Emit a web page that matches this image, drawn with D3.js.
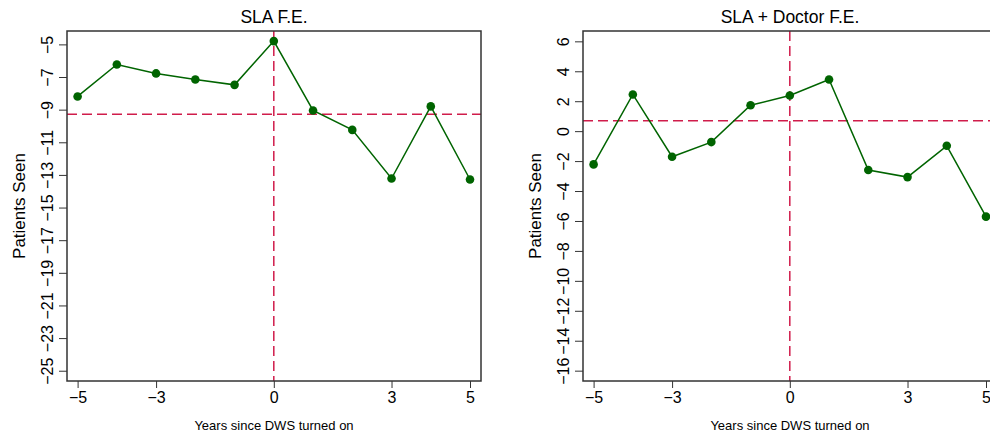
<!DOCTYPE html>
<html>
<head>
<meta charset="utf-8">
<script src="https://cdn.jsdelivr.net/npm/d3@7"></script>
<style>
  body { margin: 0; background: #fff; }
  svg { display: block; font-family: "Liberation Sans", Arial, Helvetica, sans-serif; }
</style>
</head>
<body>
<script>
// years relative to DWS switch
let years = [-5, -4, -3, -2, -1, 0, 1, 2, 3, 4, 5];
let xTicks = [-5, -3, 0, 3, 5];

// panel 1: SLA F.E.
let slaValues = [-8.19, -6.23, -6.78, -7.15, -7.48, -4.80, -9.05, -10.24, -13.22, -8.80, -13.28];
let slaTicks = [-5, -7, -9, -11, -13, -15, -17, -19, -21, -23, -25];
let slaMean = -9.28;

// panel 2: SLA + Doctor F.E.
let docValues = [-2.22, 2.45, -1.71, -0.73, 1.73, 2.38, 3.45, -2.60, -3.07, -0.98, -5.71];
let docTicks = [6, 4, 2, 0, -2, -4, -6, -8, -10, -12, -14, -16];
let docMean = 0.69;

let width = 990, height = 435;
let green = "#006400", red = "#d01c4b", frame = "#333";

let svg = d3.select("body").append("svg")
  .attr("width", width).attr("height", height);

let panels = [
  { title: "SLA F.E.", values: slaValues, ticks: slaTicks, mean: slaMean,
    left: 67, right: 481, ydom: [-25.63, -4.18], titleX: 18 },
  { title: "SLA + Doctor F.E.", values: docValues, ticks: docTicks, mean: docMean,
    left: 583, right: 997, ydom: [-16.69, 6.69], titleX: 534 }
];

let plotTop = 31, plotBottom = 381;

panels.forEach(function(p) {
  let x = d3.scaleLinear().domain([-5.27, 5.28]).range([p.left, p.right]);
  let y = d3.scaleLinear().domain(p.ydom).range([plotBottom, plotTop]);
  let g = svg.append("g");

  // reference lines
  g.append("line")
    .attr("x1", p.left).attr("x2", p.right)
    .attr("y1", y(p.mean)).attr("y2", y(p.mean))
    .attr("stroke", red).attr("stroke-width", 1.5).attr("stroke-dasharray", "10,5");
  g.append("line")
    .attr("x1", x(0)).attr("x2", x(0))
    .attr("y1", plotTop).attr("y2", plotBottom)
    .attr("stroke", red).attr("stroke-width", 1.5).attr("stroke-dasharray", "10,5");

  // series
  let line = d3.line().x((d, i) => x(years[i])).y(d => y(d));
  g.append("path")
    .datum(p.values)
    .attr("d", line)
    .attr("fill", "none").attr("stroke", green).attr("stroke-width", 1.5);
  g.selectAll("circle")
    .data(p.values)
    .join("circle")
    .attr("cx", (d, i) => x(years[i]))
    .attr("cy", d => y(d))
    .attr("r", 4.3)
    .attr("fill", green);

  // frame
  g.append("rect")
    .attr("x", p.left).attr("y", plotTop)
    .attr("width", p.right - p.left).attr("height", plotBottom - plotTop)
    .attr("fill", "none").attr("stroke", frame).attr("stroke-width", 1.5);

  // x axis
  let xa = g.append("g")
    .attr("transform", "translate(0," + plotBottom + ")")
    .call(d3.axisBottom(x).tickValues(xTicks).tickSize(7).tickPadding(4));
  xa.select(".domain").remove();
  xa.selectAll("line").attr("stroke", frame);
  xa.selectAll("text").attr("font-size", 16).attr("fill", "#000")
    .attr("font-family", "Liberation Sans, Arial, sans-serif");

  // y axis, labels rotated
  let ya = g.append("g")
    .attr("transform", "translate(" + p.left + ",0)")
    .call(d3.axisLeft(y).tickValues(p.ticks).tickSize(8));
  ya.select(".domain").remove();
  ya.selectAll("line").attr("stroke", frame);
  ya.selectAll("text")
    .attr("font-size", 16).attr("fill", "#000")
    .attr("font-family", "Liberation Sans, Arial, sans-serif")
    .attr("x", null).attr("dy", null)
    .attr("text-anchor", "middle")
    .attr("transform", "translate(-14.5,0) rotate(-90)");

  // titles
  let cx = (p.left + p.right) / 2;
  g.append("text")
    .attr("x", cx).attr("y", 23)
    .attr("text-anchor", "middle").attr("font-size", 17.5)
    .text(p.title);
  g.append("text")
    .attr("x", cx).attr("y", 430)
    .attr("text-anchor", "middle").attr("font-size", 13)
    .text("Years since DWS turned on");
  g.append("text")
    .attr("transform", "translate(" + (p.titleX + 7) + "," + (plotTop + plotBottom) / 2 + ") rotate(-90)")
    .attr("text-anchor", "middle").attr("font-size", 17)
    .text("Patients Seen");
});
</script>
</body>
</html>
